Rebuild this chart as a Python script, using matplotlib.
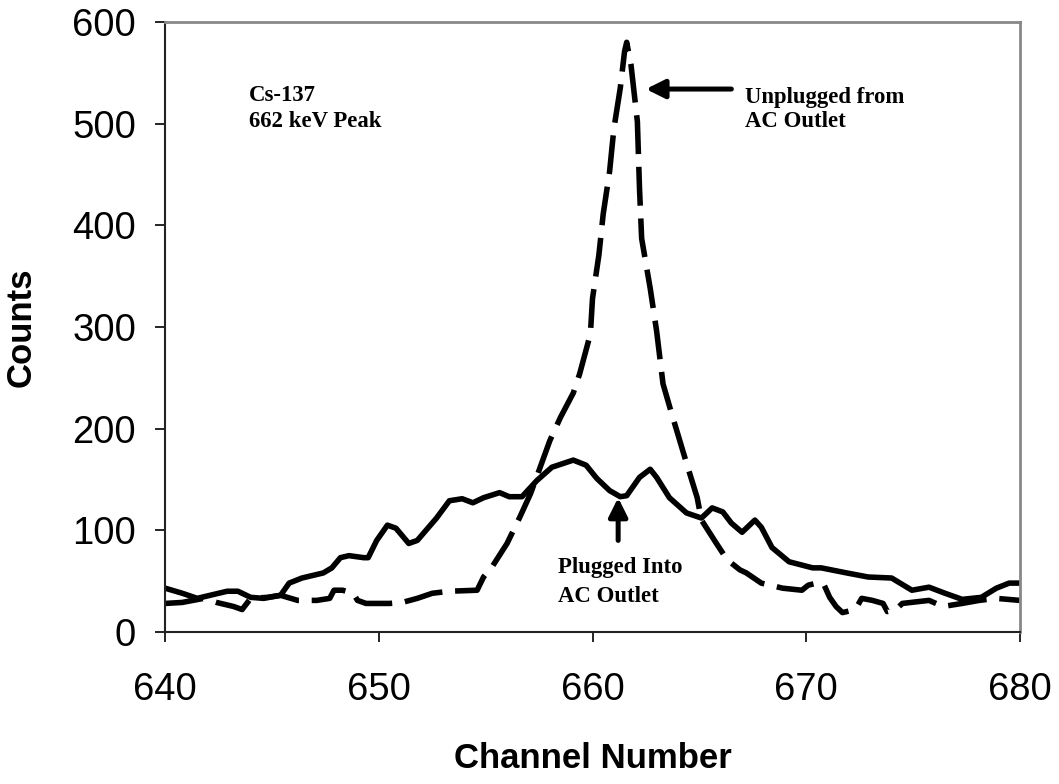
import matplotlib.pyplot as plt

# plugged into AC outlet (solid)
plug_x = [640, 640.8, 641.5, 642.9, 643.4, 644, 644.6, 645.4, 645.8, 646.4, 647.4, 647.8,
          648.2, 648.6, 649.3, 649.5, 649.9, 650.4, 650.8, 651.4, 651.8, 652.7, 653.3,
          653.9, 654.4, 654.9, 655.65, 656.1, 656.7, 657.4, 658.1, 659.1, 659.7, 660.2,
          660.8, 661.3, 661.6, 662.2, 662.7, 663.0, 663.6, 664.4, 665.1, 665.6, 666.1,
          666.5, 667.0, 667.6, 667.9, 668.4, 669.2, 670.3, 670.7, 671.9, 672.9, 674.0,
          674.95, 675.75, 676.5, 677.3, 678.2, 678.9, 679.5, 680]
plug_y = [43, 38, 33, 40, 40, 34, 33, 36, 48, 53, 58, 63,
          73, 75, 73, 73, 90, 105, 102, 87, 90, 112, 129,
          131, 127, 132, 137, 133, 133, 149, 162, 169, 164, 151,
          139, 133, 134, 152, 160, 152, 132, 117, 112, 122, 118,
          107, 98, 110, 103, 83, 69, 63, 63, 58, 54, 53,
          41, 44, 38, 32, 34, 43, 48, 48]

# unplugged from AC outlet (dashed)
unplug_x = [640, 640.8, 641.8, 642.4, 643.2, 643.6, 644, 644.8, 645.4, 646.2, 647.1, 647.7,
            647.9, 648.3, 648.8, 649.0, 649.4, 650.5, 651.1, 651.8, 652.5, 653.3, 654.6,
            654.9, 655.3, 656, 656.6, 657.1, 657.5, 658.0, 658.5, 659.1, 659.4, 659.9,
            660.0, 660.3, 660.5, 660.8, 661.0, 661.3, 661.5, 661.6, 661.8, 662.1, 662.2,
            662.3, 662.7, 663.0, 663.3, 663.7, 664.4, 664.9, 665.1, 665.8, 666.3, 666.9,
            667.2, 667.9, 668.9, 669.8, 670.1, 670.5, 670.8, 671.1, 671.4, 671.7, 672.3,
            672.6, 673.1, 673.6, 673.8, 674.2, 674.5, 675.75, 676.4, 677.3, 678.1, 678.9, 680]
unplug_y = [28, 29, 33, 29, 25, 22, 33, 34, 36, 31, 31, 33,
            41, 41, 38, 31, 28, 28, 29, 33, 38, 40, 41,
            54, 64, 87, 113, 136, 159, 188, 211, 235, 254, 293,
            328, 371, 411, 453, 495, 535, 571, 580, 558, 502, 436,
            387, 338, 296, 244, 215, 166, 132, 110, 87, 71, 61,
            58, 48, 43, 41, 46, 48, 48, 34, 25, 19, 22,
            33, 31, 28, 20, 22, 28, 31, 25, 28, 31, 33, 31]

fig = plt.figure(figsize=(10.59, 7.84), dpi=100)
ax = fig.add_axes([0.156, 0.194, 0.807, 0.778])

ax.plot(plug_x, plug_y, color='black', lw=4, solid_joinstyle='round')
ax.plot(unplug_x, unplug_y, color='black', lw=4, linestyle=(0, (7, 2.3)), dash_capstyle='butt')

ax.set_xlim(640, 680)
ax.set_ylim(0, 600)
ax.set_xticks([640, 650, 660, 670, 680])
ax.set_yticks(range(0, 601, 100))
ax.tick_params(direction='out', length=7, width=1.2, labelsize=27.5)
ax.tick_params(axis='x', pad=22)
ax.tick_params(axis='y', pad=14)
for s in ['left', 'bottom']:
    ax.spines[s].set_color('#222222')
    ax.spines[s].set_linewidth(1.5)
for s in ['top', 'right']:
    ax.spines[s].set_color('#888888')
    ax.spines[s].set_linewidth(2)

ax.set_xlabel('Channel Number', fontsize=25, fontweight='bold', family='Liberation Sans')
ax.set_ylabel('Counts', fontsize=25, fontweight='bold', family='Liberation Sans')
ax.xaxis.set_label_coords(0.5, -0.18)
ax.yaxis.set_label_coords(-0.149, 0.5)
for lbl in ax.get_xticklabels() + ax.get_yticklabels():
    lbl.set_family('Liberation Sans')

serif = dict(family='Liberation Serif', fontweight='bold', fontsize=16.4, ha='left', va='baseline')
ax.text(643.93, 522, 'Cs-137', **serif)
ax.text(643.93, 496.6, '662 keV Peak', **serif)
ax.text(667.13, 520, 'Unplugged from', **serif)
ax.text(667.13, 496.6, 'AC Outlet', **serif)
ax.text(658.39, 58, 'Plugged Into', **serif)
ax.text(658.39, 29.5, 'AC Outlet', **serif)

ax.annotate('', xy=(662.5, 534), xytext=(666.5, 534),
            arrowprops=dict(arrowstyle='-|>', lw=3.6, color='black', mutation_scale=28,
                            shrinkA=0, shrinkB=0))
ax.annotate('', xy=(661.2, 132), xytext=(661.2, 90),
            arrowprops=dict(arrowstyle='-|>', lw=3.6, color='black', mutation_scale=28,
                            shrinkA=0, shrinkB=0))

fig.savefig('out.png', dpi=100)
